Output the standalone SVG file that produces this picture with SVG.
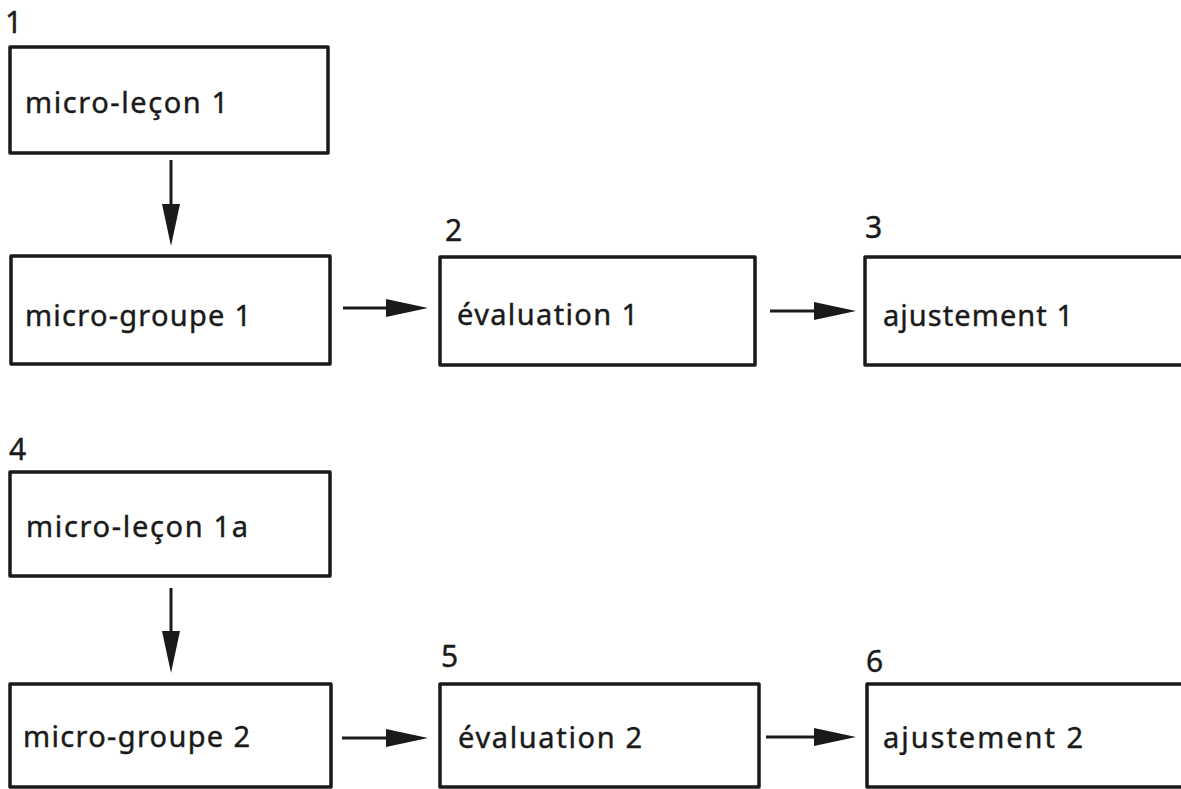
<svg xmlns="http://www.w3.org/2000/svg" width="1181" height="789" viewBox="0 0 1181 789">
<defs>
<style>
.box{fill:#fff;stroke:#1a1a1a;stroke-width:3.5;stroke-linejoin:round}
.t{font-family:"Noto Sans","Open Sans","DejaVu Sans",sans-serif;font-size:29px;fill:#1a1a1a;stroke:#1a1a1a;stroke-width:0.4}
.n{font-family:"Noto Sans","Open Sans","DejaVu Sans",sans-serif;font-size:30px;fill:#1a1a1a;stroke:#1a1a1a;stroke-width:0.4}
.c{stroke:#1a1a1a;stroke-width:3;fill:none}
</style>
<marker id="ah" markerUnits="userSpaceOnUse" markerWidth="42" markerHeight="18" refX="0" refY="9" orient="auto" viewBox="0 0 42 18">
<path d="M0,0 L42,9 L0,18 Z" fill="#1a1a1a"/>
</marker>
</defs>
<rect width="1181" height="789" fill="#fff"/>
<g id="connectors">
<path class="c" d="M171,160 V204" marker-end="url(#ah)"/>
<path class="c" d="M343,308 H386" marker-end="url(#ah)"/>
<path class="c" d="M770,311 H814" marker-end="url(#ah)"/>
<path class="c" d="M171,588 V631" marker-end="url(#ah)"/>
<path class="c" d="M342,738 H386" marker-end="url(#ah)"/>
<path class="c" d="M766,737 H814" marker-end="url(#ah)"/>
</g>
<g id="n1">
<text class="n" x="5" y="33">1</text>
<rect class="box" x="10" y="47" width="318" height="106"/>
<text class="t" x="25" y="113" textLength="203" lengthAdjust="spacing">micro-leçon 1</text>
</g>
<g id="n-mg1">
<rect class="box" x="11" y="256" width="319" height="108"/>
<text class="t" x="25" y="326" textLength="226" lengthAdjust="spacing">micro-groupe 1</text>
</g>
<g id="n2">
<text class="n" x="445" y="241">2</text>
<rect class="box" x="440" y="257" width="315" height="108"/>
<text class="t" x="457" y="325" textLength="181" lengthAdjust="spacing">évaluation 1</text>
</g>
<g id="n3">
<text class="n" x="865" y="238">3</text>
<rect class="box" x="865" y="257" width="340" height="108"/>
<text class="t" x="883" y="326" textLength="190" lengthAdjust="spacing">ajustement 1</text>
</g>
<g id="n4">
<text class="n" x="9" y="460">4</text>
<rect class="box" x="10" y="472" width="320" height="104"/>
<text class="t" x="26" y="537" textLength="222" lengthAdjust="spacing">micro-leçon 1a</text>
</g>
<g id="n-mg2">
<rect class="box" x="10" y="684" width="321" height="103"/>
<text class="t" x="23" y="747" textLength="227" lengthAdjust="spacing">micro-groupe 2</text>
</g>
<g id="n5">
<text class="n" x="441" y="667">5</text>
<rect class="box" x="440" y="684" width="319" height="103"/>
<text class="t" x="458" y="748" textLength="184" lengthAdjust="spacing">évaluation 2</text>
</g>
<g id="n6">
<text class="n" x="866" y="672">6</text>
<rect class="box" x="867" y="684" width="340" height="103"/>
<text class="t" x="883" y="748" textLength="200" lengthAdjust="spacing">ajustement 2</text>
</g>
</svg>
